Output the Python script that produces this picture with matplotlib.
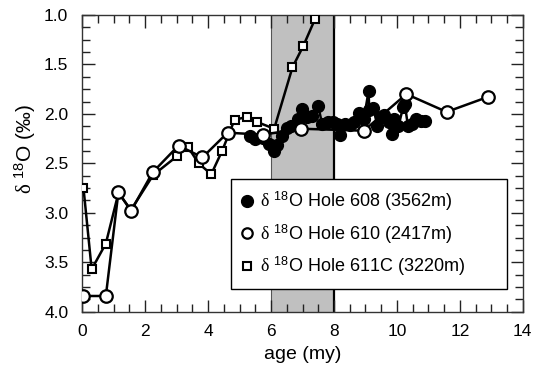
import matplotlib
matplotlib.use('Agg')
import matplotlib.pyplot as plt
from matplotlib.ticker import MultipleLocator

plt.rcParams['font.family'] = ['Liberation Sans', 'DejaVu Sans']
plt.rcParams['mathtext.fontset'] = 'custom'
plt.rcParams['mathtext.rm'] = 'Liberation Sans'
plt.rcParams['mathtext.it'] = 'Liberation Serif'

# Hole 608 (3562m) - filled circles
age_608 = [5.33, 5.5, 5.76, 5.95, 6.1, 6.2, 6.35, 6.5, 6.65, 6.85, 6.98, 7.13,
           7.3, 7.5, 7.62, 7.8, 7.98, 8.1, 8.2, 8.35, 8.5, 8.65, 8.8, 8.95,
           9.1, 9.12, 9.25, 9.38, 9.5, 9.6, 9.75, 9.83, 9.9, 10.05, 10.2,
           10.25, 10.35, 10.47, 10.6, 10.75, 10.9]
d18o_608 = [2.22, 2.25, 2.24, 2.30, 2.38, 2.31, 2.22, 2.14, 2.12, 2.05, 1.95, 2.03,
            2.02, 1.92, 2.10, 2.08, 2.08, 2.10, 2.21, 2.10, 2.11, 2.08, 1.99, 2.05,
            1.77, 1.96, 1.94, 2.12, 2.03, 2.01, 2.08, 2.20, 2.05, 2.12, 1.93,
            1.90, 2.12, 2.10, 2.05, 2.07, 2.07]

# Hole 610 (2417m) - open circles
age_610 = [0.02, 0.75, 1.15, 1.55, 2.24, 3.06, 3.82, 4.62, 5.74, 6.96, 8.95,
           10.3, 11.58, 12.88]
d18o_610 = [3.84, 3.84, 2.79, 2.98, 2.59, 2.32, 2.44, 2.19, 2.21, 2.15, 2.17,
            1.80, 1.98, 1.83]

# Hole 611C (3220m) - open squares
age_611 = [0.04, 0.3, 0.75, 1.15, 1.55, 2.25, 3.0, 3.35, 3.7, 4.1, 4.45, 4.84,
           5.24, 5.54, 6.1, 6.68, 7.03, 7.4]
d18o_611 = [2.75, 3.57, 3.31, 2.80, 2.97, 2.62, 2.43, 2.33, 2.50, 2.61, 2.37, 2.06,
            2.03, 2.08, 2.15, 1.53, 1.31, 1.04]

fig = plt.figure(figsize=(5.34, 3.73), dpi=100)
ax = fig.add_axes([0.154, 0.164, 0.825, 0.796])

# shaded interval 6-8 my
ax.axvspan(6, 8, color='#c0c0c0', zorder=0, lw=0)
ax.axvline(6, color='#555555', lw=0.8, zorder=0.5)
ax.axvline(8, color='black', lw=1.6, zorder=0.5)

ax.plot(age_608, d18o_608, '-o', color='black', lw=1.8, ms=8.5,
        mfc='black', mec='black', zorder=2,
        label=r'$\delta$ $^{18}$O Hole 608 (3562m)')
ax.plot(age_611, d18o_611, '-s', color='black', lw=1.8, ms=5.5,
        mfc='white', mec='black', mew=1.5, zorder=3,
        label=r'$\delta$ $^{18}$O Hole 611C (3220m)')
ax.plot(age_610, d18o_610, '-o', color='black', lw=1.8, ms=9,
        mfc='white', mec='black', mew=1.6, zorder=4,
        label=r'$\delta$ $^{18}$O Hole 610 (2417m)')

ax.set_xlim(0, 14)
ax.set_ylim(4.0, 1.0)
ax.xaxis.set_major_locator(MultipleLocator(2))
ax.xaxis.set_minor_locator(MultipleLocator(0.5))
ax.yaxis.set_major_locator(MultipleLocator(0.5))
ax.yaxis.set_minor_locator(MultipleLocator(0.125))
ax.yaxis.set_major_formatter(plt.FormatStrFormatter('%.1f'))
ax.tick_params(which='both', direction='in', top=True, right=True,
               labelsize=12.5, width=1, color='#222222')
ax.tick_params(which='major', length=9)
ax.tick_params(which='minor', length=6)
ax.tick_params(axis='y', which='major', pad=10)
ax.tick_params(axis='x', which='major', pad=9)
for s in ax.spines.values():
    s.set_linewidth(1)
    s.set_color('#333333')

ax.set_xlabel('age (my)', fontsize=14, labelpad=5)
ax.set_ylabel(r'$\delta$ $^{18}$O (‰)', fontsize=15)
ax.yaxis.set_label_coords(-0.1, 0.55)

handles, labels = ax.get_legend_handles_labels()
order = [0, 2, 1]
leg = ax.legend([handles[i] for i in order], [labels[i] for i in order],
                loc='lower left', bbox_to_anchor=(0.338, 0.077, 0.626, 0.35),
                mode='expand', fontsize=13, frameon=True, fancybox=False,
                edgecolor='black', framealpha=1, handlelength=0.6,
                handletextpad=0.4, borderpad=0.6, labelspacing=0.5,
                borderaxespad=0)
leg.get_frame().set_linewidth(1)
sizes = [8.5, 7.5, 5.5]
for h, ms in zip(leg.legend_handles, sizes):
    h.set_linestyle('none')
    h.set_markersize(ms)

fig.savefig('out.png', dpi=100)
